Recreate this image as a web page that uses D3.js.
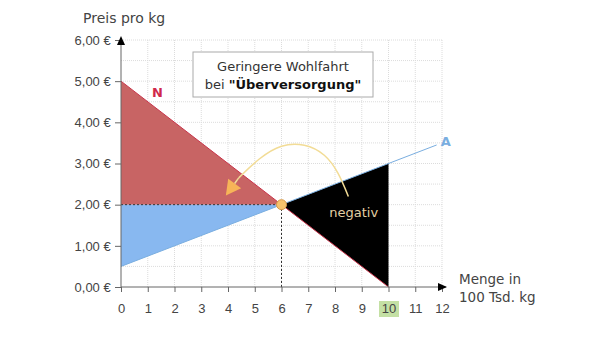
<!DOCTYPE html>
<html>
<head>
<meta charset="utf-8">
<script src="https://cdn.jsdelivr.net/npm/d3@7"></script>
<style>
  body { margin: 0; background: #fff; }
  svg { font-family: "DejaVu Sans", Verdana, sans-serif; }
</style>
</head>
<body>
<svg id="chart" width="600" height="337"></svg>
<script>
// data
const xTicks = [0, 1, 2, 3, 4, 5, 6, 7, 8, 9, 10, 11, 12];
const yTicks = [0, 1, 2, 3, 4, 5, 6];
const yTickLabels = ["0,00 €", "1,00 €", "2,00 €", "3,00 €", "4,00 €", "5,00 €", "6,00 €"];
const demand = [[0, 5], [10, 0]];          // N
const supply = [[0, 0.5], [11.8, 3.45]];   // A
const equilibrium = [6, 2];
const redArea = [[0, 5], [6, 2], [0, 2]];
const blueArea = [[0, 2], [6, 2], [0, 0.5]];
const blackArea = [[6, 2], [10, 3], [10, 0]];
const highlightTick = 10;
const arrowPath = [[8.5, 2.2], [7.6, 3.2], [6.0, 3.42], [4.4, 2.65]];
const arrowTip = [3.92, 2.22];

const svg = d3.select("#chart");
const x = d3.scaleLinear().domain([0, 12]).range([121, 442]);
const y = d3.scaleLinear().domain([0, 6]).range([287, 40]);
const line = d3.line().x(d => x(d[0])).y(d => y(d[1]));

// grid
const grid = svg.append("g").attr("stroke", "#dcdcdc").attr("stroke-width", 1).attr("stroke-dasharray", "1,1");
grid.selectAll(".v").data(xTicks.slice(1)).enter().append("line")
    .attr("x1", d => x(d)).attr("x2", d => x(d)).attr("y1", y(0)).attr("y2", y(6));
grid.selectAll(".h").data(d3.range(1, 13).map(i => i / 2)).enter().append("line")
    .attr("x1", x(0)).attr("x2", x(12)).attr("y1", d => y(d)).attr("y2", d => y(d));

// areas
svg.append("path").attr("d", line(redArea) + "Z").attr("fill", "#c86464");
svg.append("path").attr("d", line(blueArea) + "Z").attr("fill", "#88b8f0");
svg.append("path").attr("d", line(blackArea) + "Z").attr("fill", "#000");

// curves
svg.append("path").attr("d", line(supply)).attr("stroke", "#7aaee0").attr("stroke-width", 1).attr("fill", "none");
svg.append("path").attr("d", line(demand)).attr("stroke", "#c8344a").attr("stroke-width", 1).attr("fill", "none");

// equilibrium guides
svg.append("line").attr("x1", x(0)).attr("x2", x(equilibrium[0])).attr("y1", y(equilibrium[1])).attr("y2", y(equilibrium[1]))
    .attr("stroke", "#333").attr("stroke-dasharray", "2,2");
svg.append("line").attr("x1", x(equilibrium[0])).attr("x2", x(equilibrium[0])).attr("y1", y(0)).attr("y2", y(equilibrium[1]))
    .attr("stroke", "#333").attr("stroke-dasharray", "2,2");

// axes
const xAxis = d3.axisBottom(x).tickValues(xTicks).tickSize(5).tickFormat(d3.format("d"));
const gx = svg.append("g").attr("transform", `translate(0,${y(0)})`).call(xAxis);
gx.select(".domain").attr("d", `M${x(0)},0H${x(12) + 4}`).attr("stroke", "#666");
gx.selectAll(".tick line").attr("stroke", "#666");
gx.selectAll(".tick text").attr("font-size", 13).attr("fill", "#444").attr("y", 26).attr("dy", null);
gx.selectAll(".tick").filter(d => d === highlightTick).insert("rect", "text")
    .attr("x", -10).attr("y", 14).attr("width", 20).attr("height", 16).attr("fill", "#c4e0a4");

const yAxis = d3.axisLeft(y).tickValues(yTicks).tickSize(6).tickFormat((d, i) => yTickLabels[i]);
const gy = svg.append("g").attr("transform", `translate(${x(0)},0)`).call(yAxis);
gy.select(".domain").attr("d", `M0,${y(0)}V${y(6) - 2}`).attr("stroke", "#666");
gy.selectAll(".tick line").attr("stroke", "#666");
gy.selectAll(".tick text").attr("font-size", 13).attr("fill", "#444").attr("dx", "-0.1em");

// axis arrowheads
svg.append("path").attr("d", `M${x(0) - 4},${y(6) + 5}L${x(0)},${y(6) - 4}L${x(0) + 4},${y(6) + 5}Z`).attr("fill", "#000");
svg.append("path").attr("d", `M${x(12) - 4},${y(0) - 4}L${x(12) + 5},${y(0)}L${x(12) - 4},${y(0) + 4}Z`).attr("fill", "#000");

// axis titles
svg.append("text").attr("x", 83).attr("y", 23).attr("font-size", 14).attr("fill", "#444").text("Preis pro kg");
svg.append("text").attr("x", 459).attr("y", 284).attr("font-size", 13.5).attr("fill", "#444").text("Menge in");
svg.append("text").attr("x", 459).attr("y", 302).attr("font-size", 13.5).attr("fill", "#444").text("100 Tsd. kg");

// curve labels
svg.append("text").attr("x", x(1.16)).attr("y", y(4.62)).attr("font-size", 13).attr("font-weight", "bold")
    .attr("fill", "#d0284a").text("N");
svg.append("text").attr("x", x(11.95)).attr("y", y(3.5) + 3).attr("font-size", 13).attr("font-weight", "bold")
    .attr("fill", "#7aaee0").text("A");
svg.append("text").attr("x", x(8.7)).attr("y", y(1.7)).attr("text-anchor", "middle").attr("font-size", 13)
    .attr("fill", "#e4d0a4").text("negativ");

// curved arrow
const arc = d3.line().curve(d3.curveNatural).x(d => x(d[0])).y(d => y(d[1]));
svg.append("path").attr("d", arc(arrowPath)).attr("fill", "none").attr("stroke", "#f2dc96").attr("stroke-width", 1.5);
const last = arrowPath[arrowPath.length - 1];
const tx = x(arrowTip[0]), ty = y(arrowTip[1]);
const ang = Math.atan2(ty - y(last[1]), tx - x(last[0]));
const hl = 15, hw = 8;
const bx = tx - hl * Math.cos(ang), by = ty - hl * Math.sin(ang);
svg.append("path")
    .attr("d", `M${tx},${ty}L${bx + hw * Math.sin(ang)},${by - hw * Math.cos(ang)}L${bx - hw * Math.sin(ang)},${by + hw * Math.cos(ang)}Z`)
    .attr("fill", "#f7b458");
svg.append("line").attr("x1", x(last[0])).attr("y1", y(last[1])).attr("x2", bx).attr("y2", by)
    .attr("stroke", "#f2dc96").attr("stroke-width", 1.5);

// equilibrium point
svg.append("circle").attr("cx", x(equilibrium[0])).attr("cy", y(equilibrium[1])).attr("r", 5)
    .attr("fill", "#f7c36c").attr("stroke", "#d79a4a");

// text box
svg.append("rect").attr("x", 193).attr("y", 52).attr("width", 180).attr("height", 45)
    .attr("fill", "#fff").attr("stroke", "#aaa");
svg.append("text").attr("x", 283).attr("y", 71).attr("text-anchor", "middle").attr("font-size", 13)
    .attr("fill", "#333").text("Geringere Wohlfahrt");
const t2 = svg.append("text").attr("x", 283).attr("y", 89).attr("text-anchor", "middle").attr("font-size", 13).attr("fill", "#333");
t2.append("tspan").text("bei ");
t2.append("tspan").attr("font-weight", "bold").attr("fill", "#111").text("\"Überversorgung\"");
</script>
</body>
</html>
